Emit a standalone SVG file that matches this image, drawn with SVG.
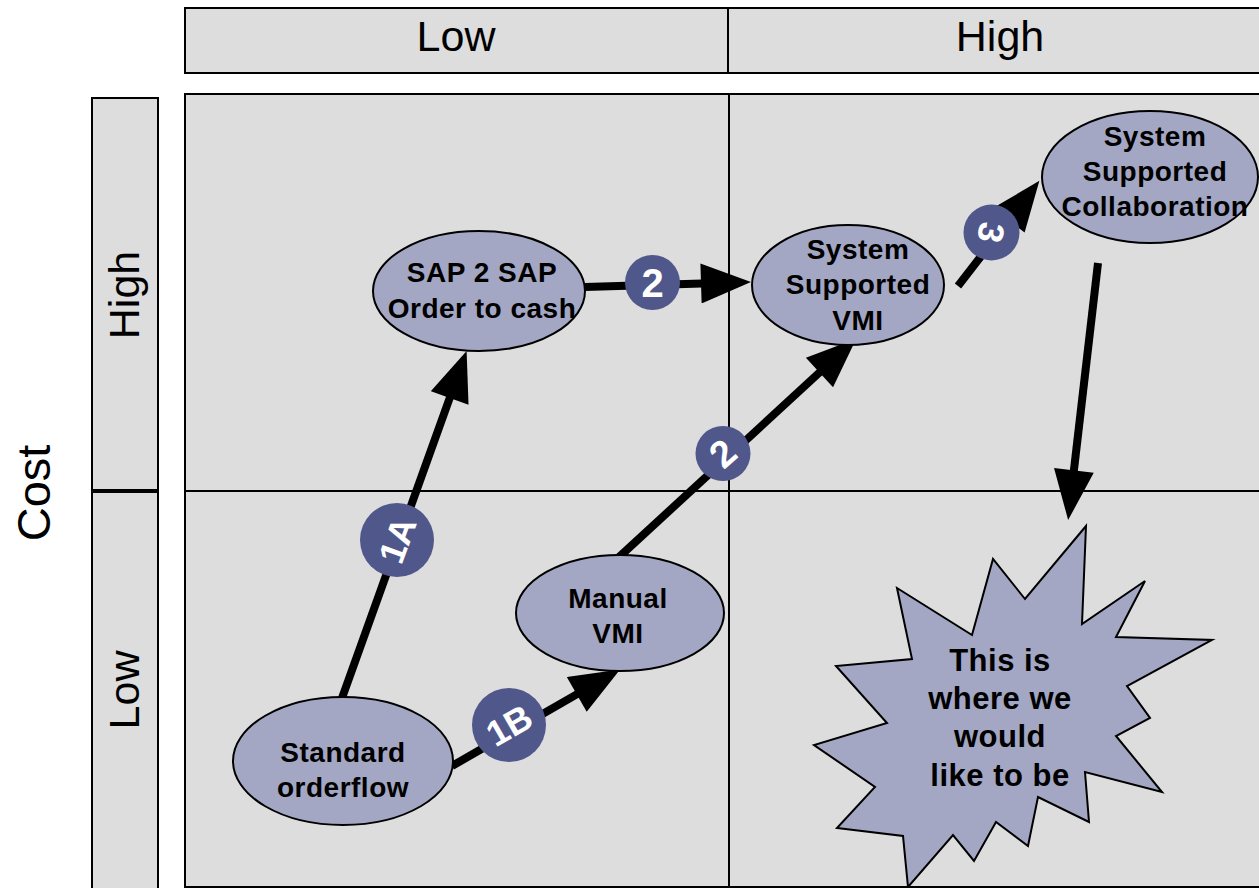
<svg xmlns="http://www.w3.org/2000/svg" width="1259" height="888" viewBox="0 0 1259 888">
<style>
.cell{fill:#dddddd;stroke:#000;stroke-width:2}
.node{fill:#a3a7c3;stroke:#000;stroke-width:2}
.lbl{font-family:"Liberation Sans",Arial,sans-serif;font-size:28px;letter-spacing:0.5px;font-weight:bold;fill:#000;text-anchor:middle}
.star{font-family:"Liberation Sans",Arial,sans-serif;font-size:31px;letter-spacing:0.5px;font-weight:bold;fill:#000;text-anchor:middle}
.axis{font-family:"Liberation Sans",Arial,sans-serif;font-size:43px;fill:#000;text-anchor:middle}
.conn{stroke:#000;stroke-width:8;fill:none;marker-end:url(#ah)}
.badge{fill:#50578a}
.btxt{font-family:"Liberation Sans",Arial,sans-serif;font-weight:bold;fill:#fff;text-anchor:middle}
</style>
<defs>
<marker id="ah" viewBox="0 0 10 8" refX="5.2" refY="4" markerWidth="6.5" markerHeight="5" orient="auto" markerUnits="strokeWidth">
<path d="M0,0 L10,4 L0,8 z" fill="#000"/>
</marker>
</defs>
<rect width="1259" height="888" fill="#fff"/>
<g id="header">
<rect class="cell" x="185" y="8" width="543" height="65"/>
<rect class="cell" x="728" y="8" width="540" height="65"/>
<text class="axis" x="456" y="51">Low</text>
<text class="axis" x="1000" y="51">High</text>
</g>
<g id="side">
<rect class="cell" x="92" y="98" width="66" height="392"/>
<rect class="cell" x="92" y="492" width="66" height="400"/>
<text class="axis" transform="translate(139,295) rotate(-90)">High</text>
<text class="axis" transform="translate(139,690) rotate(-90)">Low</text>
<text class="axis" style="font-size:47px" transform="translate(50,493) rotate(-90)">Cost</text>
</g>
<g id="grid">
<rect class="cell" x="185" y="94" width="1090" height="793"/>
<line x1="729" y1="94" x2="729" y2="887" stroke="#000" stroke-width="2"/>
<line x1="185" y1="491" x2="1259" y2="491" stroke="#000" stroke-width="2"/>
</g>
<g id="star">
<polygon class="node" points="1086,526 1082,624 1145,581 1116,637 1212,640 1127,686 1150,718 1116,736 1162,792 1085,772 1089,822 1038,797 1028,846 996,822 974,861 953,835 908,887 903,836 837,828 875,787 814,745 887,723 836,666 912,659 897,588 972,635 993,559 1025,599"/>
<text class="star" x="1000" y="671">This is</text>
<text class="star" x="1000" y="709">where we</text>
<text class="star" x="1000" y="747">would</text>
<text class="star" x="1000" y="786">like to be</text>
</g>
<g id="connectors">
<line class="conn" x1="342" y1="698" x2="458.5" y2="373.5"/>
<line class="conn" x1="452" y1="766" x2="599.3" y2="681.4"/>
<line class="conn" x1="585" y1="287" x2="727" y2="282.7"/>
<line class="conn" x1="618" y1="558" x2="838.6" y2="354.9"/>
<line class="conn" x1="958" y1="286" x2="1024.7" y2="199.8"/>
<line class="conn" x1="1098" y1="263" x2="1070.9" y2="496.2"/>
</g>
<g id="n-sap">
<ellipse class="node" cx="479" cy="291" rx="106" ry="60"/>
<text class="lbl" x="482" y="282">SAP 2 SAP</text>
<text class="lbl" x="482" y="318">Order to cash</text>
</g>
<g id="n-vmi">
<ellipse class="node" cx="848" cy="285" rx="96" ry="60"/>
<text class="lbl" x="858" y="259">System</text>
<text class="lbl" x="858" y="294">Supported</text>
<text class="lbl" x="858" y="330">VMI</text>
</g>
<g id="n-collab">
<ellipse class="node" cx="1150" cy="177" rx="108" ry="66"/>
<text class="lbl" x="1155" y="146">System</text>
<text class="lbl" x="1155" y="181">Supported</text>
<text class="lbl" x="1155" y="216">Collaboration</text>
</g>
<g id="n-manual">
<ellipse class="node" cx="620" cy="613" rx="104" ry="58"/>
<text class="lbl" x="618" y="608">Manual</text>
<text class="lbl" x="618" y="643">VMI</text>
</g>
<g id="n-standard">
<ellipse class="node" cx="343" cy="761" rx="110" ry="64"/>
<text class="lbl" x="343" y="762">Standard</text>
<text class="lbl" x="343" y="797">orderflow</text>
</g>
<g id="badge-1a">
<circle class="badge" cx="397" cy="540" r="37"/>
<text class="btxt" style="font-size:36px" transform="translate(397,540) rotate(-70)" y="13">1A</text>
</g>
<g id="badge-1b">
<circle class="badge" cx="509" cy="725" r="37"/>
<text class="btxt" style="font-size:36px" transform="translate(509,725) rotate(-30)" y="13">1B</text>
</g>
<g id="badge-2a">
<circle class="badge" cx="652.5" cy="282.5" r="27.5"/>
<text class="btxt" style="font-size:40px" x="652.5" y="297">2</text>
</g>
<g id="badge-2b">
<circle class="badge" cx="723" cy="453.5" r="27.5"/>
<text class="btxt" style="font-size:38px" transform="translate(723,453.5) rotate(-42)" y="13">2</text>
</g>
<g id="badge-3">
<circle class="badge" cx="991.5" cy="232.5" r="28"/>
<text class="btxt" style="font-size:36px" transform="translate(991.5,232.5) rotate(100)" y="13">3</text>
</g>
</svg>
